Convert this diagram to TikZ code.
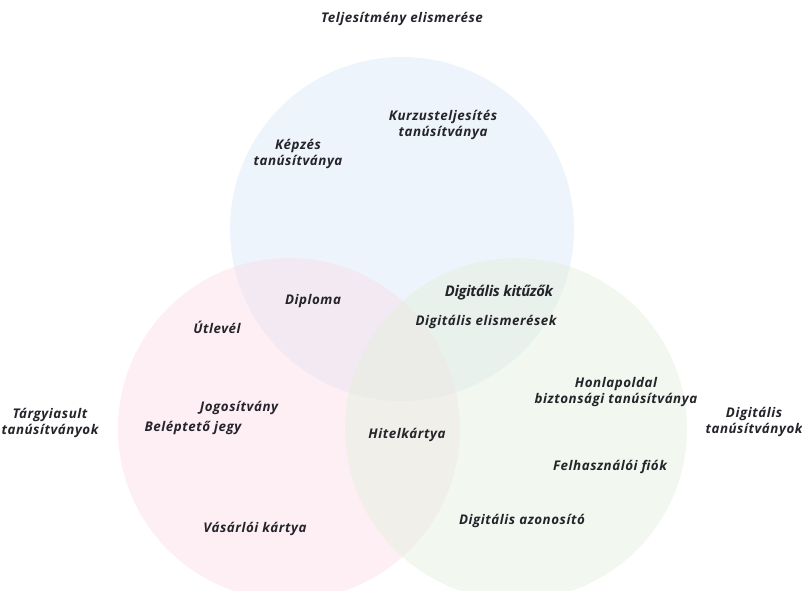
\documentclass[tikz,border=0pt]{standalone}
\usepackage{fontspec}
\setmainfont{Open Sans}[LetterSpace=4]
\newfontfamily\cimfont{Open Sans}[LetterSpace=-2]
\usepackage{xcolor}
\definecolor{korkek}{RGB}{218,230,248}
\definecolor{korrozsa}{RGB}{250,220,231}
\definecolor{korzold}{RGB}{226,239,220}
\definecolor{betu}{RGB}{36,36,42}

\begin{document}
\begin{tikzpicture}[
  x=0.025cm, y=-0.025cm,
  kor/.style={fill opacity=0.45},
  felirat/.style={align=center, inner sep=1pt, text=betu,
                  font=\fontsize{9.5}{11.4}\selectfont\bfseries\itshape},
  cim/.style={felirat, font=\fontsize{10.5}{12}\cimfont\bfseries\itshape}
]
  \useasboundingbox (0,0) rectangle (802,591);
  \clip (0,0) rectangle (802,591);

  % a harom kor
  \fill[kor, korkek]   (402,229) circle[radius=172];
  \fill[kor, korrozsa] (289,429) circle[radius=171];
  \fill[kor, korzold]  (516,429) circle[radius=171];

  % korok nevei
  \node[felirat] (teljes) at (402,19)  {Teljesítmény elismerése};
  \node[felirat] (targy)  at (50,423)  {Tárgyiasult\\tanúsítványok};
  \node[felirat] (digtan) at (754,422) {Digitális\\tanúsítványok};

  % elemek
  \node[felirat] (kurzus)  at (443,125) {Kurzusteljesítés\\tanúsítványa};
  \node[felirat] (kepzes)  at (298,154) {Képzés\\tanúsítványa};
  \node[felirat] (diploma) at (313,301) {Diploma};
  \node[cim]     (kituzo)  at (499,293) {Digitális kitűzők};
  \node[felirat] (elism)   at (486,322) {Digitális elismerések};
  \node[felirat] (utlevel) at (217,327) {Útlevél};
  \node[felirat] (honlap)  at (616,392) {Honlapoldal\\biztonsági tanúsítványa};
  \node[felirat] (jogos)   at (239,408) {Jogosítvány};
  \node[felirat] (hitel)   at (407,435) {Hitelkártya};
  \node[felirat] (belep)   at (193,428) {Beléptető jegy};
  \node[felirat] (felh)    at (610,467) {Felhasználói fiók};
  \node[felirat] (azon)    at (522,521) {Digitális azonosító};
  \node[felirat] (vasar)   at (255,529) {Vásárlói kártya};
\end{tikzpicture}
\end{document}
